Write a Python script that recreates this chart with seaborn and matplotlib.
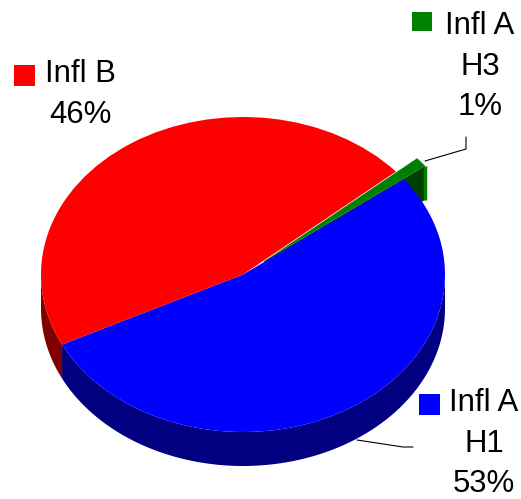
import numpy as np
import seaborn as sns
import matplotlib.pyplot as plt
from matplotlib.patches import Rectangle

labels = ['Infl A\nH1\n53%', 'Infl A\nH3\n1%', 'Infl B\n46%']
shares = [53, 1, 46]
explode = [0, 0.135, 0]
colors = ['#0000ff', '#008000', '#ff0000']
dark_colors = ['#000080', '#004000', '#800000']

sns.set_style("white")
plt.rcParams['font.family'] = ['Liberation Sans', 'DejaVu Sans']

W, H = 521, 499
cx, cy, rx, ry = 243, 274.5, 202, 157.5
depth = 34 / ry
start = 206.4

fig = plt.figure(figsize=(W / 100, H / 100), dpi=100)
ax = fig.add_axes([0, 0, 1, 1])

# slice edges in degrees, from the shares
edges = start + np.cumsum([0] + shares) / sum(shares) * 360

# side walls, only the part that faces the viewer
def rim(a0, a1, color, zorder=1):
    t = np.radians(np.linspace(a0, a1, 80))
    x, y = np.cos(t), np.sin(t)
    ax.fill(np.r_[x, x[::-1]], np.r_[y, y[::-1] - depth], color=color, lw=0, zorder=zorder)

rim(edges[0], 360, dark_colors[0])
rim(180, edges[0], dark_colors[2])

# cut face of the pulled out slice
mid = np.radians((edges[1] + edges[2]) / 2)
ox, oy = explode[1] * np.cos(mid), explode[1] * np.sin(mid)
ex, ey = np.cos(np.radians(edges[1])) + ox, np.sin(np.radians(edges[1])) + oy
ax.fill([ox, ex, ex, ox], [oy, ey, ey - depth, oy - depth], color=dark_colors[1], lw=0, zorder=0.5)
ax.plot([ex, ex], [ey, ey - depth], color=colors[1], lw=2.5, zorder=0.6, solid_capstyle='butt')

wedges, _ = ax.pie(shares, colors=colors, explode=explode, startangle=start, counterclock=True,
                   wedgeprops={'lw': 0})
wedges[1].set_zorder(3)
ax.set_aspect('auto')
ax.set_xlim((0 - cx) / rx, (W - cx) / rx)
ax.set_ylim((cy - H) / ry, cy / ry)
ax.axis('off')

# labels and leader lines, in pixels
ov = fig.add_axes([0, 0, 1, 1])
ov.set_xlim(0, W)
ov.set_ylim(H, 0)
ov.axis('off')
ov.patch.set_alpha(0)

ov.add_patch(Rectangle((419, 394), 21, 21, color=colors[0], lw=0))
ov.add_patch(Rectangle((412, 12), 20, 19, color=colors[1], lw=0))
ov.add_patch(Rectangle((14, 65), 21, 21, color=colors[2], lw=0))

ov.text(484, 443.5, labels[0], ha='center', va='center', fontsize=22.4, linespacing=1.47, color='black')
ov.text(480, 66.5, labels[1], ha='center', va='center', fontsize=22.4, linespacing=1.47, color='black')
ov.text(80, 94.5, labels[2], ha='center', va='center', fontsize=22.4, linespacing=1.47, color='black')

ov.plot([466, 466, 425], [137, 149, 161], color='black', lw=0.8)
ov.plot([357, 403, 413], [440, 447, 447], color='black', lw=0.8)

plt.savefig('out.png', dpi=100)
